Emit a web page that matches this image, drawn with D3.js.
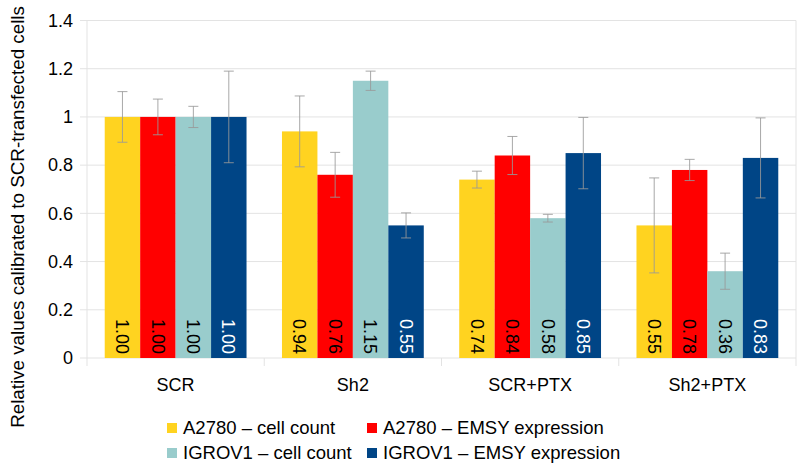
<!DOCTYPE html>
<html><head><meta charset="utf-8">
<script src="https://cdn.jsdelivr.net/npm/d3@7"></script>
<style>body{margin:0;background:#fff}svg{display:block;font-family:"Liberation Sans",Arial,sans-serif}</style>
</head><body>
<svg id="c" width="800" height="470"></svg>
<script>
const categories = ["SCR", "Sh2", "SCR+PTX", "Sh2+PTX"];
const seriesNames = ["A2780 – cell count", "A2780 – EMSY expression", "IGROV1 – cell count", "IGROV1 – EMSY expression"];
const a2780Count = [1.00, 0.94, 0.74, 0.55];
const a2780Emsy = [1.00, 0.76, 0.84, 0.78];
const igrovCount = [1.00, 1.15, 0.58, 0.36];
const igrovEmsy = [1.00, 0.55, 0.85, 0.83];
const a2780CountErr = [0.105, 0.147, 0.035, 0.197];
const a2780EmsyErr = [0.074, 0.093, 0.079, 0.044];
const igrovCountErr = [0.044, 0.040, 0.016, 0.075];
const igrovEmsyErr = [0.190, 0.052, 0.148, 0.166];
const yTicks = [0, 0.2, 0.4, 0.6, 0.8, 1, 1.2, 1.4];
const colors = ["#ffd320", "#ff0000", "#99cccc", "#004586"];
const labelColors = ["#000", "#000", "#000", "#fff"];

const values = [a2780Count, a2780Emsy, igrovCount, igrovEmsy];
const errs = [a2780CountErr, a2780EmsyErr, igrovCountErr, igrovEmsyErr];

const svg = d3.select("#c");
const L = 87, R = 796, T = 20.5, B = 358;
const x0 = d3.scaleBand().domain(categories).range([L, R]).padding(0);
const x1 = d3.scaleBand().domain(d3.range(4)).range([0, x0.bandwidth()]).paddingInner(0).paddingOuter(0.5);
const y = d3.scaleLinear().domain([0, 1.4]).range([B, T]);

svg.append("g").selectAll("line").data(yTicks).join("line")
  .attr("x1", L - 7).attr("x2", R).attr("y1", d => y(d)).attr("y2", d => y(d))
  .attr("stroke", "#e3e3e3").attr("stroke-width", 1);
const vx = [L, ...categories.slice(1).map(c => x0(c)), R];
svg.append("g").selectAll("line").data(vx).join("line")
  .attr("x1", d => d).attr("x2", d => d)
  .attr("y1", (d, i) => (i === 0 || i === vx.length - 1) ? T : B)
  .attr("y2", B + 8)
  .attr("stroke", "#e3e3e3").attr("stroke-width", 1);

svg.append("g").selectAll("text").data(yTicks).join("text")
  .attr("x", 73).attr("y", d => y(d)).attr("dy", "0.35em")
  .attr("text-anchor", "end").attr("font-size", 18).attr("fill", "#000")
  .text(d => d3.format("~g")(d));

const groups = svg.append("g").selectAll("g").data(categories).join("g")
  .attr("transform", c => `translate(${x0(c)},0)`);
const flat = (c, ci) => d3.range(4).map(s => ({s, v: values[s][ci], e: errs[s][ci]}));
groups.each(function(c, ci) {
  const g = d3.select(this);
  const d = flat(c, ci);
  g.selectAll("rect").data(d).join("rect")
    .attr("x", q => x1(q.s)).attr("width", x1.bandwidth())
    .attr("y", q => y(q.v)).attr("height", q => B - y(q.v))
    .attr("fill", q => colors[q.s]);
  const cx = q => x1(q.s) + x1.bandwidth() / 2;
  const eb = g.selectAll("g.eb").data(d).join("g").attr("class", "eb");
  eb.append("line").attr("x1", cx).attr("x2", cx)
    .attr("y1", q => y(q.v + q.e)).attr("y2", q => y(q.v - q.e));
  eb.append("line").attr("x1", q => cx(q) - 5).attr("x2", q => cx(q) + 5)
    .attr("y1", q => y(q.v + q.e)).attr("y2", q => y(q.v + q.e));
  eb.append("line").attr("x1", q => cx(q) - 5).attr("x2", q => cx(q) + 5)
    .attr("y1", q => y(q.v - q.e)).attr("y2", q => y(q.v - q.e));
  eb.selectAll("line").attr("stroke", "#999").attr("stroke-width", 1).attr("stroke-opacity", 0.85);
  g.selectAll("text").data(d).join("text")
    .attr("transform", q => `translate(${cx(q)},${B - 4}) rotate(90)`)
    .attr("text-anchor", "end").attr("dy", "0.35em")
    .attr("font-size", 18).attr("fill", q => labelColors[q.s])
    .text(q => q.v.toFixed(2));
});

svg.append("g").selectAll("text").data(categories).join("text")
  .attr("x", c => x0(c) + x0.bandwidth() / 2).attr("y", 385).attr("dy", "0.35em")
  .attr("text-anchor", "middle").attr("font-size", 18).attr("fill", "#000").text(c => c);

svg.append("text").attr("transform", "translate(17,217) rotate(-90)")
  .attr("text-anchor", "middle").attr("dy", "0.35em").attr("font-size", 18.8).attr("fill", "#000")
  .text("Relative values calibrated to SCR-transfected cells");

const lx = [167, 367], ly = [428, 453];
const leg = svg.append("g").selectAll("g").data(seriesNames).join("g")
  .attr("transform", (d, i) => `translate(${lx[i % 2]},${ly[Math.floor(i / 2)]})`);
leg.append("rect").attr("x", 0).attr("y", -5).attr("width", 10).attr("height", 10).attr("fill", (d, i) => colors[i]);
leg.append("text").attr("x", 16).attr("dy", "0.35em").attr("font-size", 18.5).attr("fill", "#000").text(d => d);
</script>
</body></html>
